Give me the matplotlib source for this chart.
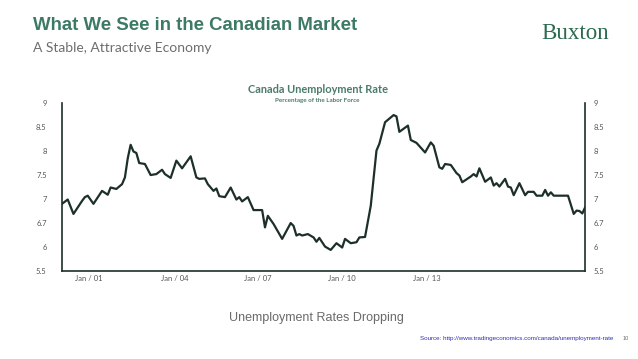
import matplotlib
matplotlib.use("Agg")
import matplotlib.pyplot as plt

# month offsets since Jan 2000 and unemployment rate (%)
months = [0, 2, 4, 7, 8, 9, 11, 14, 16, 17, 19, 21, 22, 23, 24, 25, 26, 27, 29,
          31, 33, 35, 36, 38, 40, 42, 45, 47, 48, 50, 51, 53, 54, 55, 57, 59,
          61, 62, 63, 65, 67, 70, 71, 72, 74, 77, 80, 81, 82, 83, 84, 86, 88,
          89, 90, 92, 94, 96, 98, 99, 101, 103, 104, 106, 108, 110, 111, 113,
          116, 117, 118, 121, 122, 124, 127, 129, 130, 132, 133, 134, 136, 138,
          139, 140, 142, 143, 144, 145, 146, 148, 150, 151, 152, 153, 155, 156,
          157, 158, 160, 162, 163, 165, 166, 168, 169, 170, 171, 172, 177, 179,
          180, 181, 182, 183]
rate = [6.90, 6.99, 6.69, 6.96, 7.04, 7.07, 6.90, 7.17, 7.09, 7.24, 7.21, 7.31,
        7.45, 7.85, 8.13, 7.99, 7.96, 7.75, 7.73, 7.50, 7.52, 7.61, 7.52, 7.44,
        7.80, 7.64, 7.89, 7.45, 7.42, 7.43, 7.31, 7.17, 7.22, 7.06, 7.04, 7.24,
        6.99, 7.04, 6.95, 7.04, 6.77, 6.77, 6.41, 6.65, 6.48, 6.17, 6.50, 6.44,
        6.24, 6.27, 6.24, 6.27, 6.20, 6.11, 6.19, 6.01, 5.94, 6.08, 5.99, 6.17,
        6.08, 6.10, 6.20, 6.21, 6.86, 8.01, 8.15, 8.60, 8.75, 8.72, 8.40, 8.53,
        8.23, 8.17, 7.97, 8.18, 8.11, 7.66, 7.63, 7.73, 7.71, 7.54, 7.49, 7.35,
        7.43, 7.47, 7.52, 7.47, 7.64, 7.36, 7.45, 7.28, 7.33, 7.26, 7.42, 7.26,
        7.24, 7.08, 7.33, 7.08, 7.15, 7.15, 7.07, 7.07, 7.19, 7.07, 7.14, 7.07,
        7.07, 6.69, 6.76, 6.75, 6.70, 6.83]

y_ticks = [5.5, 6, 6.5, 7, 7.5, 8, 8.5, 9]
y_labels = ["5.5", "6", "6.7", "7", "7.5", "8", "8.5", "9"]
x_labels = ["Jan / 01", "Jan / 04", "Jan / 07", "Jan / 10", "Jan / 13"]
x_label_pos = [9.5, 39.5, 68.5, 98, 127.5]

green = "#3d7a64"
dark = "#1d3028"
gray = "#6e6e6e"

fig = plt.figure(figsize=(6.38, 3.59), dpi=100)
fig.patch.set_facecolor("white")

ax = fig.add_axes([0.0972, 0.245, 0.82, 0.468])
ax.plot(months, rate, color=dark, lw=1.6, solid_joinstyle="round")
ax.set_xlim(0, 183)
ax.set_ylim(5.5, 9)
ax.set_yticks(y_ticks)
ax.set_yticklabels(y_labels)
ax.set_xticks(x_label_pos)
ax.set_xticklabels(x_labels)
ax.tick_params(axis="both", length=0, labelsize=5.5, labelcolor="#555555",
               labelfontfamily="Lato")
ax.tick_params(axis="y", pad=11)
ax.tick_params(axis="x", pad=3)
ax.spines["top"].set_visible(False)
for s in ["left", "right", "bottom"]:
    ax.spines[s].set_color(dark)
    ax.spines[s].set_linewidth(1.2)

# right-hand labels sit close to the spine
ax2 = ax.twinx()
ax2.set_ylim(5.5, 9)
ax2.set_yticks(y_ticks)
ax2.set_yticklabels(y_labels)
ax2.tick_params(axis="y", length=0, labelsize=5.5, labelcolor="#555555",
                labelfontfamily="Lato", pad=6)
for s in ax2.spines.values():
    s.set_visible(False)

fig.text(0.052, 0.93, "What We See in the Canadian Market", fontsize=13.4,
         fontweight="bold", color=green, family="Liberation Sans", va="center")
fig.text(0.052, 0.866, "A Stable, Attractive Economy", fontsize=10,
         color=gray, family="Lato", va="center")
fig.text(0.848, 0.906, "Buxton", fontsize=16.5, color="#2a6a4e",
         family="Liberation Serif", va="center")

fig.text(0.498, 0.752, "Canada Unemployment Rate", fontsize=7.9,
         color="#4b7c69", family="Lato", fontweight="bold", ha="center", va="center")
fig.text(0.498, 0.721, "Percentage of the Labor Force", fontsize=4.5,
         color="#4b7c69", family="Lato", fontweight="bold", ha="center", va="center")

fig.text(0.496, 0.114, "Unemployment Rates Dropping", fontsize=9,
         color="#6a6a6a", family="Liberation Sans", ha="center", va="center")
fig.text(0.962, 0.058, "Source: http://www.tradingeconomics.com/canada/unemployment-rate",
         fontsize=4.5, color="#3030b0", family="Liberation Sans", ha="right",
         va="center")
fig.text(0.981, 0.056, "10", fontsize=4, color=gray, family="Liberation Sans",
         ha="center", va="center")

fig.savefig("out.png", dpi=100, facecolor="white")
